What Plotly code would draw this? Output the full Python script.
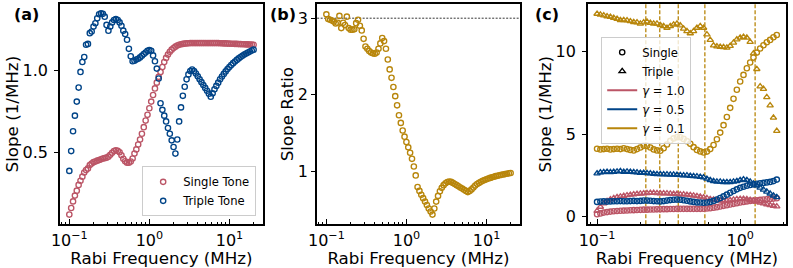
import plotly.graph_objects as go

# ---------------- data ----------------
freq = [0.1, 0.1055, 0.1113, 0.1174, 0.1239, 0.1307, 0.1379, 0.1455, 0.1535, 0.1619,
        0.1708, 0.1802, 0.1901, 0.2006, 0.2116, 0.2232, 0.2355, 0.2485, 0.2621, 0.2765,
        0.2917, 0.3078, 0.3247, 0.3425, 0.3614, 0.3812, 0.4022, 0.4243, 0.4476, 0.4722,
        0.4982, 0.5256, 0.5545, 0.5849, 0.6171, 0.6510, 0.6868, 0.7244, 0.7643, 0.8063,
        0.8506, 0.8973, 0.9467, 0.9988, 1.0537, 1.1116, 1.1727, 1.2372, 1.3052, 1.3769,
        1.4526, 1.5325, 1.6167, 1.7056, 1.7993, 1.8982, 2.0026, 2.1127, 2.2288, 2.3514,
        2.4806, 2.6170, 2.7609, 2.9127, 3.0728, 3.2417, 3.4199, 3.6079, 3.8063, 4.0155,
        4.2363, 4.4692, 4.7149, 4.9741, 5.2475, 5.5360, 5.8404, 6.1615, 6.5002, 6.8576,
        7.2346, 7.6323, 8.0519, 8.4946, 8.9616, 9.4543, 9.9754, 10.524, 11.102, 11.713,
        12.357, 13.036, 13.753, 14.509, 15.307, 16.148, 17.036, 17.972, 18.960, 20.0]

single_tone = [0.125, 0.165, 0.205, 0.24, 0.27, 0.305, 0.33, 0.355, 0.38, 0.395,
               0.405, 0.425, 0.435, 0.443, 0.447, 0.452, 0.456, 0.46, 0.465, 0.467,
               0.47, 0.476, 0.488, 0.50, 0.51, 0.515, 0.512, 0.503, 0.485, 0.463,
               0.448, 0.44, 0.44, 0.447, 0.465, 0.495, 0.52, 0.55, 0.58, 0.615,
               0.655, 0.695, 0.73, 0.77, 0.81, 0.85, 0.89, 0.925, 0.96, 0.99,
               1.02, 1.05, 1.075, 1.095, 1.112, 1.125, 1.135, 1.143, 1.15, 1.155,
               1.158, 1.16, 1.162, 1.163, 1.164, 1.165, 1.165, 1.165, 1.165, 1.165,
               1.165, 1.165, 1.165, 1.165, 1.165, 1.165, 1.165, 1.165, 1.165, 1.165,
               1.165, 1.164, 1.164, 1.163, 1.163, 1.162, 1.162, 1.161, 1.161, 1.16,
               1.16, 1.159, 1.159, 1.158, 1.158, 1.157, 1.157, 1.156, 1.156, 1.155]

triple_tone = [0.39, 0.51, 0.63, 0.725, 0.81, 0.895, 0.99, 1.05, 1.08, 1.155,
               1.16, 1.225, 1.235, 1.265, 1.285, 1.315, 1.34, 1.345, 1.342, 1.325,
               1.275, 1.24, 1.265, 1.29, 1.305, 1.31, 1.305, 1.29, 1.27, 1.24,
               1.22, 1.185, 1.13, 1.085, 1.055, 1.058, 1.065, 1.07, 1.078, 1.088,
               1.098, 1.108, 1.118, 1.122, 1.118, 1.09, 1.055, 1.01, 0.95, 0.80,
               0.76, 0.725, 0.69, 0.65, 0.615, 0.575, 0.535, 0.495, 0.58, 0.69,
               0.775, 0.845, 0.90, 0.945, 0.975, 0.995, 1.005, 0.995, 0.98, 0.963,
               0.945, 0.928, 0.91, 0.893, 0.876, 0.858, 0.84, 0.86, 0.885, 0.905,
               0.925, 0.945, 0.962, 0.978, 0.993, 1.007, 1.02, 1.032, 1.043, 1.053,
               1.063, 1.072, 1.08, 1.088, 1.095, 1.102, 1.108, 1.114, 1.12, 1.125]

slope_ratio = [3.05, 2.99, 2.98, 2.97, 2.955, 2.93, 2.94, 3.03, 2.87, 2.94,
               2.91, 3.02, 2.87, 2.85, 2.85, 2.855, 2.935, 2.98, 2.90, 2.84,
               2.73, 2.63, 2.60, 2.57, 2.55, 2.54, 2.535, 2.55, 2.60, 2.67,
               2.74, 2.70, 2.60, 2.46, 2.33, 2.22, 2.10, 1.98, 1.86, 1.73,
               1.63, 1.53, 1.45, 1.38, 1.31, 1.24, 1.16, 1.06, 0.943, 0.79,
               0.74, 0.69, 0.645, 0.60, 0.555, 0.51, 0.47, 0.43, 0.51, 0.60,
               0.675, 0.735, 0.78, 0.815, 0.84, 0.855, 0.862, 0.858, 0.845, 0.83,
               0.815, 0.80, 0.785, 0.77, 0.755, 0.74, 0.725, 0.74, 0.76, 0.785,
               0.81, 0.83, 0.845, 0.86, 0.872, 0.883, 0.893, 0.902, 0.91, 0.918,
               0.926, 0.933, 0.939, 0.945, 0.95, 0.955, 0.96, 0.965, 0.97, 0.974]

# panel (c): first 55 frequencies of the sweep
n_c = 55
g10_single = [0.15, 0.2, 0.25, 0.28, 0.31, 0.33, 0.35, 0.36, 0.37, 0.38,
              0.39, 0.4, 0.41, 0.42, 0.43, 0.43, 0.44, 0.44, 0.45, 0.45,
              0.46, 0.46, 0.47, 0.47, 0.48, 0.48, 0.48, 0.48, 0.48, 0.48,
              0.48, 0.48, 0.49, 0.5, 0.52, 0.55, 0.58, 0.62, 0.66, 0.7,
              0.74, 0.78, 0.82, 0.86, 0.9, 0.93, 0.96, 0.98, 1.0, 1.02,
              1.04, 1.06, 1.08, 1.1, 1.12]
g10_triple = [0.35, 0.6, 0.8, 0.95, 1.05, 1.12, 1.18, 1.22, 1.26, 1.3,
              1.33, 1.36, 1.38, 1.4, 1.42, 1.43, 1.44, 1.44, 1.43, 1.42,
              1.42, 1.41, 1.4, 1.39, 1.38, 1.36, 1.35, 1.33, 1.31, 1.28,
              1.25, 1.21, 1.17, 1.12, 1.07, 1.03, 1.0, 0.98, 0.97, 0.98,
              1.0, 1.03, 1.06, 1.08, 1.08, 1.06, 1.02, 0.97, 0.91, 0.85,
              0.8, 0.75, 0.7, 0.66, 0.62]
g05_single = [0.9, 0.92, 0.93, 0.92, 0.93, 0.94, 0.94, 0.95, 0.94, 0.94,
              0.95, 0.96, 0.95, 0.96, 0.98, 0.98, 0.97, 0.95, 0.94, 0.93,
              0.95, 0.98, 1.01, 1.03, 1.04, 1.03, 1.0, 0.97, 0.93, 0.9,
              0.87, 0.86, 0.85, 0.86, 0.9, 0.96, 1.04, 1.13, 1.23, 1.34,
              1.45, 1.56, 1.66, 1.75, 1.82, 1.88, 1.93, 1.97, 2.0, 2.03,
              2.05, 2.08, 2.11, 2.16, 2.25]
g05_triple = [2.62, 2.68, 2.7, 2.72, 2.7, 2.72, 2.74, 2.76, 2.72, 2.74,
              2.72, 2.7, 2.68, 2.66, 2.66, 2.64, 2.62, 2.6, 2.58, 2.58,
              2.56, 2.56, 2.55, 2.55, 2.54, 2.52, 2.5, 2.5, 2.48, 2.46,
              2.44, 2.42, 2.38, 2.3, 2.22, 2.16, 2.12, 2.12, 2.1, 2.1,
              2.1, 2.12, 2.16, 2.22, 2.26, 2.22, 2.12, 2.0, 1.88, 1.76,
              1.64, 1.52, 1.4, 1.28, 1.18]
g01_single = [4.12, 4.08, 4.1, 4.12, 4.08, 4.1, 4.12, 4.1, 4.15, 4.1,
              4.05, 4.02, 4.1, 4.2, 4.3, 4.3, 4.2, 4.08, 4.02, 4.0,
              4.15, 4.38, 4.6, 4.75, 4.82, 4.82, 4.72, 4.58, 4.42, 4.22,
              4.05, 3.96, 3.9, 3.95, 4.1, 4.35, 4.7, 5.1, 5.55, 6.05,
              6.6, 7.15, 7.7, 8.2, 8.6, 9.0, 9.35, 9.65, 9.95, 10.2,
              10.4, 10.58, 10.72, 10.88, 11.02]
g01_triple = [12.3, 12.25, 12.2, 12.15, 12.12, 12.05, 12.0, 11.92, 11.92, 11.9,
              11.85, 11.8, 11.78, 11.7, 11.78, 11.82, 11.75, 11.7, 11.7, 11.62,
              11.55, 11.45, 11.55, 11.65, 11.7, 11.6, 11.4, 11.25, 11.12, 11.25,
              11.45, 11.55, 11.45, 11.05, 10.72, 10.38, 10.32, 10.3, 10.28, 10.25,
              10.35, 10.55, 10.75, 10.85, 10.9, 10.85, 10.6, 9.9, 8.95, 7.9,
              7.75, 7.25, 6.75, 6.0, 5.2]
marker_freqs = [0.219, 0.274, 0.369, 0.566, 1.27]
gamma_labels = ["1.0", "0.5", "0.1"]

# ---------------- style ----------------
FONT = "DejaVu Sans"
PINK, BLUE, GOLD = "#BB5566", "#004488", "#B8860B"
TICK, LABEL, LEG = 16, 16.7, 11.6
W, H = 793, 268


def xd(a, b):
    return [a / W, b / W]


YDOM = [1 - 226 / H, 1 - 4 / H]

fig = go.Figure()


def mk(symbol, color, size=5.3):
    return dict(symbol=symbol, size=size, color=color, line=dict(width=1.35))


# (a)
fig.add_trace(go.Scatter(x=freq, y=single_tone, mode="markers", name="Single Tone",
                         marker=mk("circle-open", PINK), xaxis="x", yaxis="y", legend="legend"))
fig.add_trace(go.Scatter(x=freq, y=triple_tone, mode="markers", name="Triple Tone",
                         marker=mk("circle-open", BLUE), xaxis="x", yaxis="y", legend="legend"))
# (b)
fig.add_trace(go.Scatter(x=freq, y=slope_ratio, mode="markers", showlegend=False,
                         marker=mk("circle-open", GOLD), xaxis="x2", yaxis="y2"))
# (c)
fc = freq[:n_c]
for col, s, t in [(PINK, g10_single, g10_triple), (BLUE, g05_single, g05_triple),
                  (GOLD, g01_single, g01_triple)]:
    fig.add_trace(go.Scatter(x=fc, y=s, mode="markers", showlegend=False,
                             marker=mk("circle-open", col), xaxis="x3", yaxis="y3"))
    fig.add_trace(go.Scatter(x=fc, y=t, mode="markers", showlegend=False,
                             marker=mk("triangle-up-open", col, 5.6), xaxis="x3", yaxis="y3"))

# legend entries for (c)
fig.add_trace(go.Scatter(x=[None], y=[None], mode="markers", name="Single",
                         marker=mk("circle-open", "black"), xaxis="x3", yaxis="y3", legend="legend2"))
fig.add_trace(go.Scatter(x=[None], y=[None], mode="markers", name="Triple",
                         marker=mk("triangle-up-open", "black", 5.6), xaxis="x3", yaxis="y3", legend="legend2"))
for col, g in zip([PINK, BLUE, GOLD], gamma_labels):
    fig.add_trace(go.Scatter(x=[None], y=[None], mode="lines", name="<i>γ</i> = " + g,
                             line=dict(color=col, width=2), xaxis="x3", yaxis="y3", legend="legend2"))

# shapes
for f in marker_freqs:
    fig.add_shape(type="line", xref="x3", yref="y3 domain", x0=f, x1=f, y0=0, y1=1,
                  line=dict(color=GOLD, width=1.3, dash="4px,2px"), layer="below")
fig.add_shape(type="line", xref="x2 domain", yref="y2", x0=0, x1=1, y0=3, y1=3,
              line=dict(color="black", width=0.8, dash="2px,1.5px"), layer="below")

base = dict(showline=True, linewidth=2, linecolor="black", mirror=True, showgrid=False,
            zeroline=False, tickcolor="black", tickwidth=1.2,
            tickfont=dict(size=TICK, family=FONT, color="black"))

sup = lambda e: "10<sup>" + e + "</sup>"
minor_ab = [0.08, 0.09, 0.2, 0.3, 0.4, 0.5, 0.6, 0.7, 0.8, 0.9, 2, 3, 4, 5, 6, 7, 8, 9, 20]
minor_c = [0.09, 0.2, 0.3, 0.4, 0.5, 0.6, 0.7, 0.8, 0.9, 2]


def xaxis(dom, rng, tv, tt, minor, anchor):
    d = dict(base)
    d.update(type="log", domain=dom, range=rng, anchor=anchor, ticks="inside", ticklen=5,
             tickmode="array", tickvals=tv, ticktext=tt,
             minor=dict(tickmode="array", tickvals=minor, ticks="inside", ticklen=2.5,
                        tickcolor="black", tickwidth=1, showgrid=False),
             title=dict(text="Rabi Frequency (MHz)", font=dict(size=LABEL, family=FONT), standoff=0))
    return d


def yaxis(rng, tv, tt, title, anchor, pad=3):
    d = dict(base)
    d.update(domain=YDOM, range=rng, anchor=anchor, ticks="outside", ticklen=4,
             tickmode="array", tickvals=tv, ticktext=tt, ticklabelstandoff=pad,
             title=dict(text=title, font=dict(size=LABEL, family=FONT), standoff=0))
    return d


def yover(over, anchor, rng, tv):
    return dict(overlaying=over, anchor=anchor, side="left", range=rng, tickmode="array",
                tickvals=tv, ticks="inside", ticklen=4, tickcolor="black", tickwidth=1.2,
                showticklabels=False, showline=False, showgrid=False, zeroline=False)


ra, rb, rc = [0.066, 1.402], [0.303, 3.186], [-0.46, 12.9]
fig.update_layout(
    width=W, height=H, margin=dict(l=0, r=0, t=0, b=0),
    paper_bgcolor="white", plot_bgcolor="white",
    font=dict(family=FONT, color="black"),
    xaxis=xaxis(xd(51.7, 256.7), [-1.115, 1.416], [0.1, 1, 10], [sup("−1"), sup("0"), sup("1")], minor_ab, "y"),
    xaxis2=xaxis(xd(311.7, 516.7), [-1.115, 1.416], [0.1, 1, 10], [sup("−1"), sup("0"), sup("1")], minor_ab, "y2"),
    xaxis3=xaxis(xd(585.7, 785.7), [-1.063, 0.318], [0.1, 1], [sup("−1"), sup("0")], minor_c, "y3"),
    yaxis=yaxis(ra, [0.5, 1.0], ["0.5", "1.0"], "Slope (1/MHz)", "x"),
    yaxis2=yaxis(rb, [1, 2, 3], ["1", "2", "3"], "Slope Ratio", "x2", pad=0),
    yaxis3=yaxis(rc, [0, 5, 10], ["0", "5", "10"], "Slope (1/MHz)", "x3"),
    yaxis4=yover("y", "x", ra, [0.5, 1.0]),
    yaxis5=yover("y2", "x2", rb, [1, 2, 3]),
    yaxis6=yover("y3", "x3", rc, [0, 5, 10]),
    legend=dict(x=250 / W, y=1 - 218 / H, xanchor="right", yanchor="bottom",
                bgcolor="rgba(255,255,255,0.8)", bordercolor="#cccccc", borderwidth=1,
                font=dict(size=LEG, family=FONT, color="black")),
    legend2=dict(x=599 / W, y=1 - 37 / H, xanchor="left", yanchor="top",
                 bgcolor="rgba(255,255,255,0.8)", bordercolor="#cccccc", borderwidth=1,
                 font=dict(size=LEG, family=FONT, color="black")),
    showlegend=True,
)

for lbl, px in [("(a)", 4), ("(b)", 263), ("(c)", 531)]:
    fig.add_annotation(text="<b>" + lbl + "</b>", x=px / W, y=1 - 15 / H, xref="paper", yref="paper",
                       xanchor="left", yanchor="middle", showarrow=False, borderpad=0,
                       font=dict(size=16, family=FONT, color="black"))

fig.write_html("out.html", config={"displayModeBar": False},
               post_script="document.body.style.margin='0';document.body.style.overflow='hidden';")
